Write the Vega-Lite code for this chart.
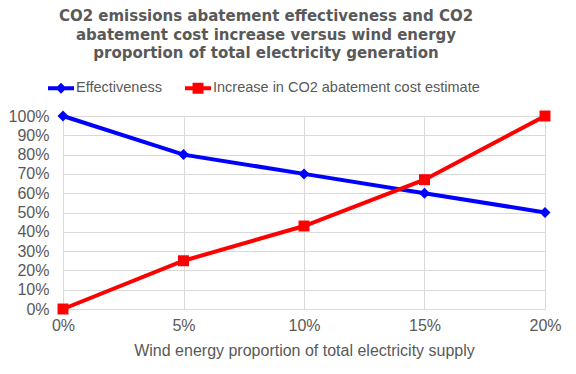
{
  "$schema": "https://vega.github.io/schema/vega-lite/v6.json",
  "width": 482,
  "height": 193,
  "autosize": {"type": "none"},
  "padding": {"left": 63, "top": 116, "right": 31, "bottom": 65},
  "background": "white",
  "title": {
    "text": ["CO2 emissions abatement effectiveness and CO2", "abatement cost increase versus wind energy", "proportion of total electricity generation"],
    "font": "DejaVu Sans",
    "fontSize": 15,
    "fontWeight": "bold",
    "color": "#595959",
    "anchor": "middle",
    "frame": "group",
    "dx": -38,
    "lineHeight": 18.5,
    "offset": 14
  },
  "data": {
    "values": [
      {"share": 0.0, "series": "Effectiveness", "value": 1.0},
      {"share": 0.05, "series": "Effectiveness", "value": 0.8},
      {"share": 0.1, "series": "Effectiveness", "value": 0.7},
      {"share": 0.15, "series": "Effectiveness", "value": 0.6},
      {"share": 0.2, "series": "Effectiveness", "value": 0.5},
      {"share": 0.0, "series": "Increase in CO2 abatement cost estimate", "value": 0.0},
      {"share": 0.05, "series": "Increase in CO2 abatement cost estimate", "value": 0.25},
      {"share": 0.1, "series": "Increase in CO2 abatement cost estimate", "value": 0.43},
      {"share": 0.15, "series": "Increase in CO2 abatement cost estimate", "value": 0.67},
      {"share": 0.2, "series": "Increase in CO2 abatement cost estimate", "value": 1.0}
    ]
  },
  "encoding": {
    "x": {
      "field": "share", "type": "quantitative",
      "scale": {"domain": [0, 0.2], "nice": false, "zero": false},
      "axis": {
        "values": [0, 0.05, 0.1, 0.15, 0.2], "format": ".0%",
        "title": "Wind energy proportion of total electricity supply",
        "labelPadding": 8, "titlePadding": 9, "labelFlush": false,
        "domain": true, "domainColor": "#d9d9d9"
      }
    },
    "y": {
      "field": "value", "type": "quantitative",
      "scale": {"domain": [0, 1], "nice": false},
      "axis": {
        "values": [0, 0.1, 0.2, 0.3, 0.4, 0.5, 0.6, 0.7, 0.8, 0.9, 1.0],
        "format": ".0%", "title": null, "domain": false, "labelPadding": 14
      }
    }
  },
  "layer": [
    {
      "mark": {"type": "line", "strokeWidth": 4},
      "encoding": {
        "color": {
          "field": "series", "type": "nominal",
          "scale": {"domain": ["Effectiveness", "Increase in CO2 abatement cost estimate"], "range": ["#0000ff", "#ff0000"]},
          "legend": {
            "title": null, "orient": "none", "direction": "horizontal",
            "legendX": -15, "legendY": -41, "padding": 0,
            "symbolSize": 676,
            "labelFont": "Liberation Sans", "labelFontSize": 14.5, "labelColor": "#595959",
            "labelOffset": 2, "columnPadding": 23, "labelLimit": 0,
            "encode": {
              "symbols": {
                "update": {
                  "shape": {"signal": "datum.value === 'Effectiveness' ? 'M-1,-0.154H1V0.154H-1Z M0,-0.42L0.42,0L0,0.42L-0.42,0Z' : 'M-1,-0.154H1V0.154H-1Z M-0.42,-0.42H0.42V0.42H-0.42Z'"},
                  "fill": {"signal": "datum.value === 'Effectiveness' ? '#0000ff' : '#ff0000'"},
                  "strokeWidth": {"value": 0},
                  "opacity": {"value": 1},
                  "size": {"value": 676}
                }
              }
            }
          }
        }
      }
    },
    {
      "transform": [{"filter": "datum.series === 'Effectiveness'"}],
      "mark": {"type": "point", "shape": "diamond", "filled": true, "color": "#0000ff", "size": 120, "opacity": 1}
    },
    {
      "transform": [{"filter": "datum.series !== 'Effectiveness'"}],
      "mark": {"type": "point", "shape": "square", "filled": true, "color": "#ff0000", "size": 120, "opacity": 1}
    }
  ],
  "config": {
    "view": {"stroke": null},
    "axis": {
      "labelFont": "Liberation Sans", "labelFontSize": 16, "labelColor": "#595959",
      "titleFont": "Liberation Sans", "titleFontSize": 16, "titleColor": "#595959", "titleFontWeight": "normal",
      "gridColor": "#d9d9d9", "gridWidth": 1, "ticks": false
    }
  }
}
